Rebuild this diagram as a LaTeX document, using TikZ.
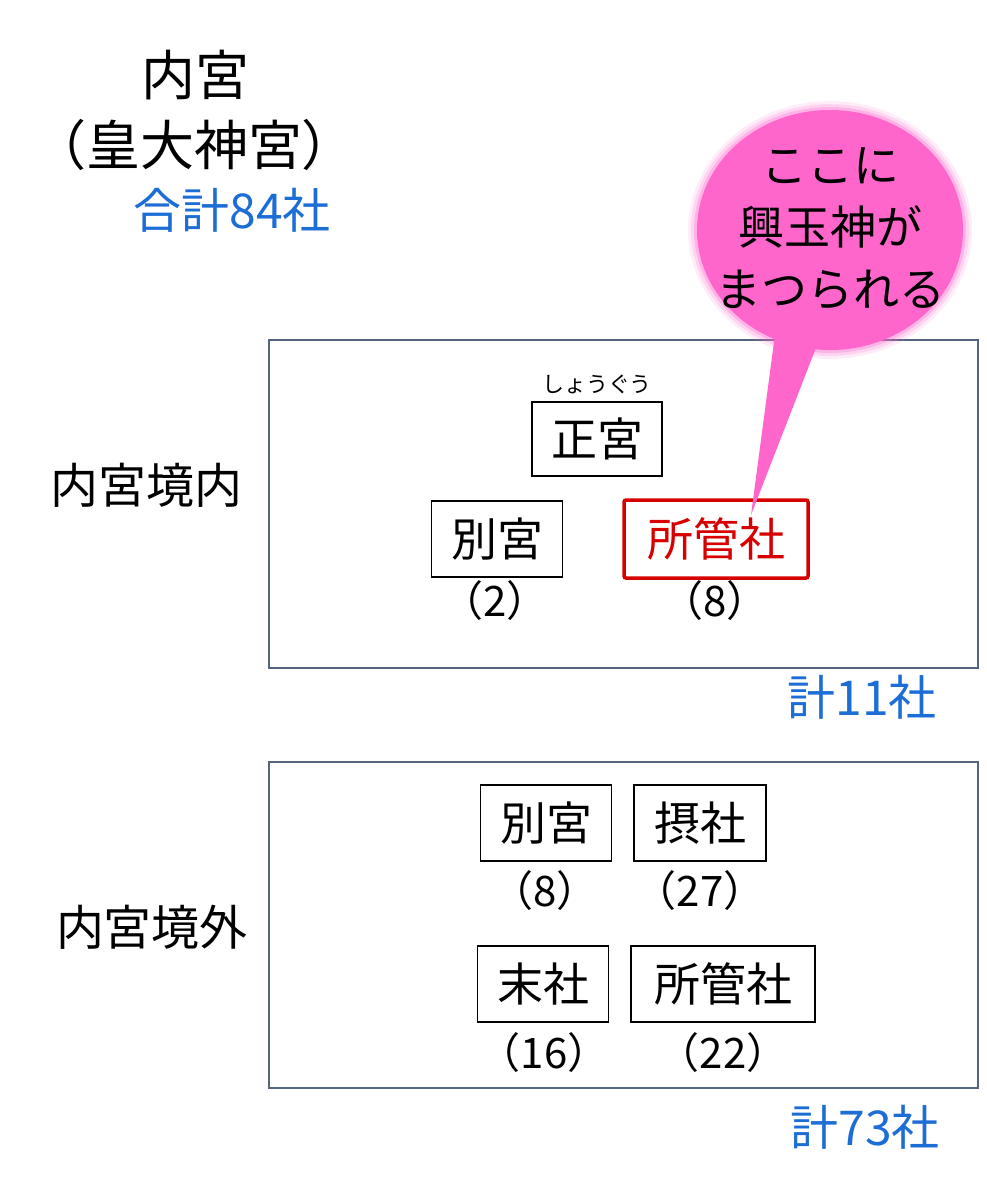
\documentclass[tikz,border=0pt]{standalone}
\usepackage{fontspec}
\setmainfont{Noto Sans CJK JP}
\usetikzlibrary{shapes.geometric}
\definecolor{framec}{RGB}{84,102,125}
\definecolor{sumc}{RGB}{28,110,214}
\definecolor{shoc}{RGB}{215,0,0}
\definecolor{bubblec}{RGB}{255,102,204}

\begin{document}
\begin{tikzpicture}[x=1pt,y=-1pt,
  shabox/.style={draw,line width=1.3pt,inner sep=0pt,minimum width=131pt,minimum height=76pt,font=\fontsize{46}{50}\selectfont},
  count/.style={font=\fontsize{42}{46}\selectfont},
  sumtext/.style={text=sumc,font=\fontsize{48}{52}\selectfont},
  area/.style={font=\fontsize{48}{52}\selectfont}]
\useasboundingbox (0,0) rectangle (986,1200);
% title
\node[font=\fontsize{54}{58}\selectfont] (naiku) at (195,75) {内宮};
\node[font=\fontsize{54}{58}\selectfont] (kotai) at (194,145) {（皇大神宮）};
\node[sumtext] (total) at (232,210) {合計84社};
%
% inside the precinct
\node[area] (inner) at (146,485) {内宮境内};
\draw[framec,line width=1.5pt] (269,340) rectangle (978,668);
\node[font=\fontsize{22}{24}\selectfont] (ruby) at (597,384) {しょうぐう};
\node[shabox,minimum width=130pt,minimum height=74pt] (shogu) at (597,439) {正宮};
\node[shabox] (betsu1) at (497,539) {別宮};
\node[shabox,draw=shoc,text=shoc,line width=3.5pt,rounded corners=2pt,minimum width=184pt,minimum height=78pt] (shokan1) at (716,539) {所管社};
\node[count] (c2) at (495,601) {（2）};
\node[count] (c8a) at (715,601) {（8）};
\node[sumtext] (sum1) at (862,697) {計11社};
%
% outside the precinct
\node[area] (outer) at (152,927) {内宮境外};
\draw[framec,line width=1.5pt] (269,762) rectangle (978,1088);
\node[shabox] (betsu2) at (546,823) {別宮};
\node[shabox,minimum width=132pt] (sessha) at (700,823) {摂社};
\node[shabox] (massha) at (543,984) {末社};
\node[shabox,minimum width=184pt] (shokan2) at (723,984) {所管社};
\node[count] (c8b) at (545,891) {（8）};
\node[count] (c27) at (700,891) {（27）};
\node[count] (c16) at (544,1053) {（16）};
\node[count] (c22) at (723,1053) {（22）};
\node[sumtext] (sum2) at (865,1127) {計73社};
%
% callout
\foreach \g/\o in {9/0.12,6/0.18,3/0.3}
  \fill[bubblec,opacity=\o] (830,230) ellipse [x radius={133pt+\g pt}, y radius={120pt+\g pt}];
\node[ellipse,fill=bubblec,inner sep=0pt,minimum width=266pt,minimum height=240pt] (bubble) at (830,230) {};
\coordinate (tip) at (751,515);
\fill[bubblec] (bubble.243) -- (tip) -- (bubble.263) -- cycle;
\node[align=center,font=\fontsize{46}{62}\selectfont] (note) at (830,229) {ここに\\興玉神が\\まつられる};
\end{tikzpicture}
\end{document}
